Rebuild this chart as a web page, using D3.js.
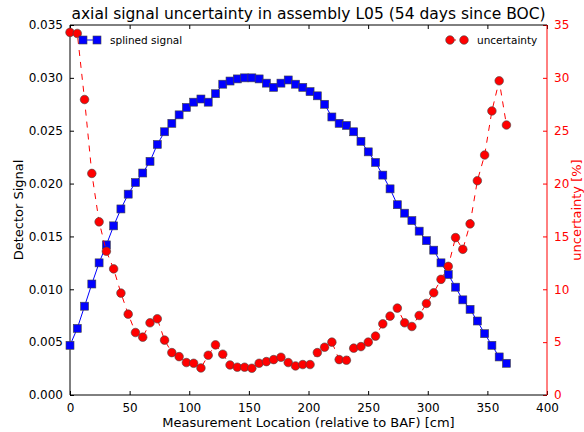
<!DOCTYPE html>
<html>
<head>
<meta charset="utf-8">
<script src="https://cdn.jsdelivr.net/npm/d3@7"></script>
<style>
  body { margin: 0; background: #fff; }
  text { font-family: "DejaVu Sans", sans-serif; }
</style>
</head>
<body>
<svg id="chart" width="584" height="432"></svg>
<script>
// measurement positions, every 6.1 cm
const positions = d3.range(61).map(i => +(i * 6.1).toFixed(1));

// splined detector signal
const signal = [
  0.0047, 0.0063, 0.0084, 0.0105, 0.0125, 0.0142, 0.0160, 0.0176, 0.0190, 0.0201,
  0.0210, 0.0221, 0.0237, 0.0249, 0.0257, 0.0265, 0.0272, 0.0277, 0.0280, 0.0277,
  0.0285, 0.0294, 0.0297, 0.0299, 0.0300, 0.0300, 0.0299, 0.0295, 0.0291, 0.0295,
  0.0298, 0.0294, 0.0291, 0.0287, 0.0283, 0.0275, 0.0263, 0.0257, 0.0255, 0.0249,
  0.0240, 0.0230, 0.0220, 0.0208, 0.0195, 0.0180, 0.0172, 0.0165, 0.0155, 0.0146,
  0.0137, 0.0125, 0.0114, 0.0102, 0.0090, 0.0081, 0.0070, 0.0058, 0.0047, 0.0036,
  0.0030
];

// uncertainty in percent
const uncertainty = [
  34.3, 34.2, 27.95, 20.96, 16.38, 13.6, 11.93, 9.64, 7.65, 5.91,
  5.47, 6.83, 7.21, 5.19, 4.01, 3.63, 3.07, 3.0, 2.56, 3.76,
  4.74, 3.86, 2.84, 2.63, 2.63, 2.53, 3.0, 3.16, 3.35, 3.57,
  3.07, 2.75, 2.88, 2.88, 4.01, 4.52, 5.0, 3.35, 3.29, 4.43,
  4.58, 5.0, 5.57, 6.73, 7.46, 8.22, 6.83, 6.48, 7.52, 8.66,
  9.67, 10.94, 12.17, 14.89, 13.78, 16.19, 20.27, 22.7, 26.87, 29.72,
  25.54
];

const xTicks = d3.range(0, 401, 50);
const yLeftTicks = d3.range(0, 0.0351, 0.005);
const yRightTicks = d3.range(0, 36, 5);

const margin = {left: 70, top: 25, right: 37, bottom: 37};
const W = 584, H = 432;
const svg = d3.select('#chart');

const x = d3.scaleLinear().domain([0, 400]).range([margin.left, W - margin.right]);
const yL = d3.scaleLinear().domain([0, 0.035]).range([H - margin.bottom, margin.top]);
const yR = d3.scaleLinear().domain([0, 35]).range([H - margin.bottom, margin.top]);

const x0 = margin.left, x1 = W - margin.right, yb = H - margin.bottom, yt = margin.top;

// axes, ticks pointing inward
const fmtL = d3.format('.3f');
svg.append('g')
  .attr('transform', `translate(0,${yb})`)
  .call(d3.axisBottom(x).tickValues(xTicks).tickSizeInner(-4).tickSizeOuter(0).tickPadding(8))
  .call(g => g.select('.domain').remove());
svg.append('g')
  .attr('transform', `translate(0,${yt})`)
  .call(d3.axisTop(x).tickValues(xTicks).tickSizeInner(-4).tickSizeOuter(0).tickFormat(''))
  .call(g => g.select('.domain').remove());
svg.append('g')
  .attr('transform', `translate(${x0},0)`)
  .call(d3.axisLeft(yL).tickValues(yLeftTicks).tickFormat(fmtL).tickSizeInner(-4).tickSizeOuter(0).tickPadding(7))
  .call(g => g.select('.domain').remove());
const gR = svg.append('g')
  .attr('transform', `translate(${x1},0)`)
  .call(d3.axisRight(yR).tickValues(yRightTicks).tickSizeInner(-4).tickSizeOuter(0).tickPadding(7))
  .call(g => g.select('.domain').remove());
gR.selectAll('line').attr('stroke', 'red');
gR.selectAll('text').attr('fill', 'red');

svg.selectAll('.tick text').attr('font-size', 12).attr('font-family', '"DejaVu Sans", sans-serif');

// spines
svg.append('line').attr('x1', x0).attr('x2', x1).attr('y1', yb).attr('y2', yb).attr('stroke', '#000');
svg.append('line').attr('x1', x0).attr('x2', x1).attr('y1', yt).attr('y2', yt).attr('stroke', '#000');
svg.append('line').attr('x1', x0).attr('x2', x0).attr('y1', yt).attr('y2', yb).attr('stroke', '#000');
svg.append('line').attr('x1', x1).attr('x2', x1).attr('y1', yt).attr('y2', yb).attr('stroke', 'red');

// signal line and squares
const lineL = d3.line().x((d, i) => x(positions[i])).y(d => yL(d));
svg.append('path').datum(signal)
  .attr('d', lineL).attr('fill', 'none').attr('stroke', 'blue').attr('stroke-width', 1);
svg.append('g').selectAll('rect').data(signal).join('rect')
  .attr('x', (d, i) => x(positions[i]) - 4)
  .attr('y', d => yL(d) - 4)
  .attr('width', 8).attr('height', 8)
  .attr('fill', 'blue').attr('stroke', '#444').attr('stroke-width', 0.6);

// uncertainty dashed line and circles
const lineR = d3.line().x((d, i) => x(positions[i])).y(d => yR(d));
svg.append('path').datum(uncertainty)
  .attr('d', lineR).attr('fill', 'none').attr('stroke', 'red').attr('stroke-width', 1)
  .attr('stroke-dasharray', '6,6');
svg.append('g').selectAll('circle').data(uncertainty).join('circle')
  .attr('cx', (d, i) => x(positions[i]))
  .attr('cy', d => yR(d))
  .attr('r', 4.3)
  .attr('fill', 'red').attr('stroke', '#444').attr('stroke-width', 0.6);

// legends
const legL = svg.append('g');
legL.append('line').attr('x1', 83).attr('x2', 97).attr('y1', 40).attr('y2', 40).attr('stroke', 'blue');
[83, 97].forEach(px => legL.append('rect').attr('x', px - 4).attr('y', 36).attr('width', 8).attr('height', 8)
  .attr('fill', 'blue').attr('stroke', '#444').attr('stroke-width', 0.6));
legL.append('text').attr('x', 110).attr('y', 44).attr('font-size', 10.5).text('splined signal');

const legR = svg.append('g');
legR.append('line').attr('x1', 450).attr('x2', 464).attr('y1', 40).attr('y2', 40)
  .attr('stroke', 'red').attr('stroke-dasharray', '6,6');
[450, 464].forEach(px => legR.append('circle').attr('cx', px).attr('cy', 40).attr('r', 4.3)
  .attr('fill', 'red').attr('stroke', '#444').attr('stroke-width', 0.6));
legR.append('text').attr('x', 477).attr('y', 44).attr('font-size', 10.5).text('uncertainty');

// title and labels
svg.append('text').attr('x', (x0 + x1) / 2).attr('y', 19).attr('text-anchor', 'middle')
  .attr('font-size', 15.5).text('axial signal uncertainty in assembly L05 (54 days since BOC)');
svg.append('text').attr('x', (x0 + x1) / 2).attr('y', 427).attr('text-anchor', 'middle')
  .attr('font-size', 13).text('Measurement Location (relative to BAF) [cm]');
svg.append('text').attr('transform', `translate(23,${(yt + yb) / 2}) rotate(-90)`)
  .attr('text-anchor', 'middle').attr('font-size', 13).text('Detector Signal');
svg.append('text').attr('transform', `translate(581,${(yt + yb) / 2}) rotate(-90)`)
  .attr('text-anchor', 'middle').attr('font-size', 13).attr('fill', 'red').text('uncertainty [%]');
</script>
</body>
</html>
